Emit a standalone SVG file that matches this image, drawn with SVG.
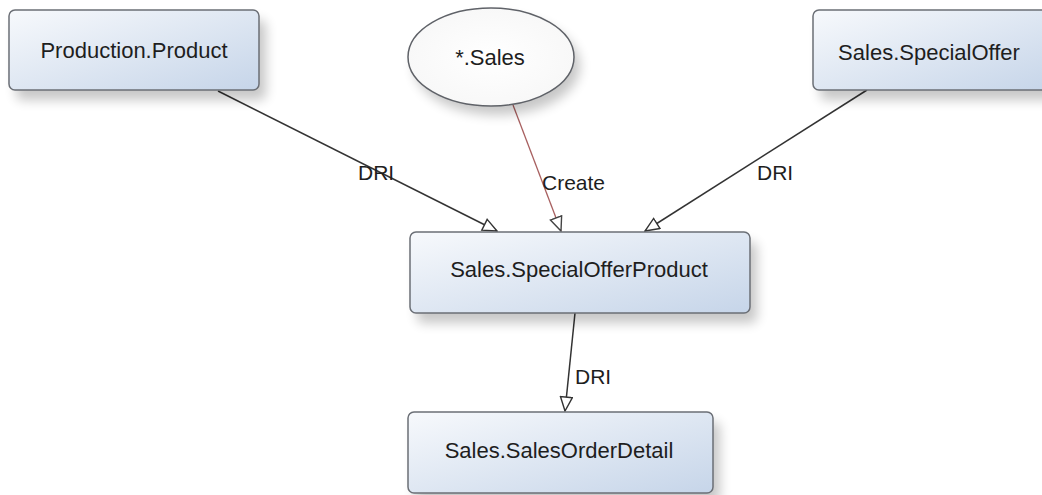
<svg xmlns="http://www.w3.org/2000/svg" width="1042" height="495" viewBox="0 0 1042 495">
<style>
.box{fill:url(#g);stroke:#6b6f76;stroke-width:1.5}
.t{font-family:"Liberation Sans",Arial,sans-serif;font-size:22px;fill:#1e1e1e;text-anchor:middle}
.l{font-family:"Liberation Sans",Arial,sans-serif;font-size:21px;fill:#1e1e1e}
.c{stroke:#333;stroke-width:1.5;fill:none}
.cr{stroke:#a86060;stroke-width:1.3;fill:none}
.sh{fill:#000;opacity:0.22;filter:url(#blur)}
</style>
<defs>
<linearGradient id="g" x1="0" y1="0" x2="1" y2="1">
<stop offset="0" stop-color="#f7f9fc"/>
<stop offset="1" stop-color="#c6d5e9"/>
</linearGradient>
<radialGradient id="ge" cx="0.5" cy="0.5" r="0.5">
<stop offset="0" stop-color="#ffffff"/>
<stop offset="1" stop-color="#f8f8f8"/>
</radialGradient>
<filter id="blur" x="-20%" y="-20%" width="140%" height="160%"><feGaussianBlur stdDeviation="6"/></filter>
<marker id="a" viewBox="0 0 16 14" refX="15" refY="7" markerWidth="16" markerHeight="14" markerUnits="userSpaceOnUse" orient="auto">
<path d="M1,1 L15,7 L1,13 Z" fill="#fff" stroke="#333" stroke-width="1.4"/>
</marker>
<marker id="ar" viewBox="0 0 16 14" refX="15" refY="7" markerWidth="16" markerHeight="14" markerUnits="userSpaceOnUse" orient="auto">
<path d="M1,1 L15,7 L1,13 Z" fill="#fff" stroke="#444" stroke-width="1.4"/>
</marker>
</defs>
<rect width="1042" height="495" fill="#fff"/>
<g id="connectors">
<line class="c" x1="218" y1="91" x2="497" y2="231" marker-end="url(#a)"/>
<line class="cr" x1="513" y1="105" x2="561" y2="231" marker-end="url(#ar)"/>
<line class="c" x1="867" y1="90" x2="645" y2="231" marker-end="url(#a)"/>
<line class="c" x1="575" y1="313" x2="565" y2="411" marker-end="url(#a)"/>
<text class="l" x="358" y="180">DRI</text>
<text class="l" x="542" y="190">Create</text>
<text class="l" x="757" y="180">DRI</text>
<text class="l" x="575" y="384">DRI</text>
</g>
<g id="n1">
<rect class="sh" x="16" y="20" width="250" height="80" rx="6"/>
<rect class="box" x="9" y="10" width="250" height="80" rx="6"/>
<text class="t" x="134" y="58">Production.Product</text>
</g>
<g id="n2">
<ellipse class="sh" cx="497" cy="66" rx="83" ry="49"/>
<ellipse cx="491" cy="57" rx="83" ry="49" fill="url(#ge)" stroke="#5f6268" stroke-width="1.5"/>
<text class="t" x="490" y="65">*.Sales</text>
</g>
<g id="n3">
<rect class="sh" x="820" y="20" width="240" height="80" rx="6"/>
<rect class="box" x="813" y="10" width="240" height="80" rx="6"/>
<text class="t" x="929" y="60">Sales.SpecialOffer</text>
</g>
<g id="n4">
<rect class="sh" x="417" y="242" width="340" height="81" rx="6"/>
<rect class="box" x="410" y="232" width="340" height="81" rx="6"/>
<text class="t" x="579" y="277">Sales.SpecialOfferProduct</text>
</g>
<g id="n5">
<rect class="sh" x="415" y="422" width="305" height="81" rx="6"/>
<rect class="box" x="408" y="412" width="305" height="81" rx="6"/>
<text class="t" x="559" y="458">Sales.SalesOrderDetail</text>
</g>
</svg>
